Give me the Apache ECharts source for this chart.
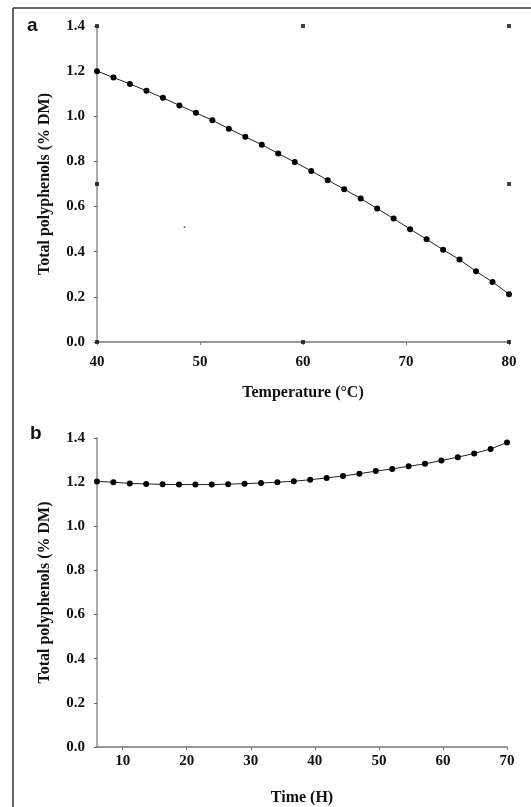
<!DOCTYPE html>
<html>
<head>
<meta charset="utf-8">
<script src="https://cdn.jsdelivr.net/npm/echarts@6/dist/echarts.min.js"></script>
<style>
  html, body { margin: 0; padding: 0; background: #fff; }
  #chart { width: 531px; height: 807px; }
</style>
</head>
<body>
<div id="chart"></div>
<script>
// panel a: temperature
const tempX = [40, 41.6, 43.2, 44.8, 46.4, 48, 49.6, 51.2, 52.8, 54.4, 56, 57.6, 59.2,
    60.8, 62.4, 64, 65.6, 67.2, 68.8, 70.4, 72, 73.6, 75.2, 76.8, 78.4, 80];
const tempY = [1.200, 1.172, 1.143, 1.113, 1.082, 1.048, 1.016, 0.982, 0.945, 0.909, 0.874, 0.835, 0.797,
    0.758, 0.717, 0.677, 0.636, 0.591, 0.547, 0.500, 0.455, 0.409, 0.365, 0.313, 0.266, 0.212];
// small square handles seen around panel a
const handlesA = [[40, 1.4], [60, 1.4], [80, 1.4], [40, 0.7], [80, 0.7], [40, 0], [60, 0], [80, 0]];
const strayA = [[48.5, 0.51]];

// panel b: time
const timeX = [6, 8.56, 11.12, 13.68, 16.24, 18.8, 21.36, 23.92, 26.48, 29.04, 31.6, 34.16, 36.72,
    39.28, 41.84, 44.4, 46.96, 49.52, 52.08, 54.64, 57.2, 59.76, 62.32, 64.88, 67.44, 70];
const timeY = [1.203, 1.200, 1.194, 1.192, 1.190, 1.189, 1.189, 1.189, 1.191, 1.193, 1.196, 1.200, 1.204,
    1.211, 1.219, 1.228, 1.238, 1.250, 1.260, 1.272, 1.283, 1.298, 1.313, 1.330, 1.350, 1.380];

const yTicks = [0, 0.2, 0.4, 0.6, 0.8, 1.0, 1.2, 1.4];
const tempTicks = [40, 50, 60, 70, 80];
const timeTicks = [10, 20, 30, 40, 50, 60, 70];

const serif = 'Liberation Serif';
const labelStyle = { color: '#111', fontFamily: serif, fontWeight: 'bold', fontSize: 15 };
const nameStyle = { color: '#111', fontFamily: serif, fontWeight: 'bold', fontSize: 16 };

function yAxis(gridIndex) {
    return {
        type: 'value', gridIndex: gridIndex, min: 0, max: 1.4, interval: 0.2,
        name: 'Total polyphenols (% DM)', nameLocation: 'middle', nameGap: 44,
        nameTextStyle: nameStyle,
        axisLine: { show: true, lineStyle: { color: '#a8a8a8', width: 2 } },
        axisTick: { show: true, length: 3, lineStyle: { color: '#666' } },
        axisLabel: Object.assign({ margin: 12, formatter: (v) => v.toFixed(1),
            customValues: yTicks }, labelStyle),
        splitLine: { show: false }
    };
}

const chart = echarts.init(document.getElementById('chart'));
const option = {
    animation: false,
    backgroundColor: '#fff',
    grid: [
        { left: 97, right: 22, top: 26, bottom: 465 },
        { left: 97, right: 24, top: 438, bottom: 60 }
    ],
    xAxis: [
        {
            type: 'value', gridIndex: 0, min: 40, max: 80, interval: 10,
            name: 'Temperature (°C)', nameLocation: 'middle', nameGap: 43,
            nameTextStyle: nameStyle,
            axisLine: { show: true, lineStyle: { color: '#777', width: 1.5 } },
            axisTick: { show: true, length: 3, customValues: tempTicks, lineStyle: { color: '#777' } },
            axisLabel: Object.assign({ margin: 13, customValues: tempTicks }, labelStyle),
            splitLine: { show: false }
        },
        {
            type: 'value', gridIndex: 1, min: 6, max: 70,
            name: 'Time (H)', nameLocation: 'middle', nameGap: 43,
            nameTextStyle: nameStyle,
            axisLine: { show: true, lineStyle: { color: '#777', width: 1.5 } },
            axisTick: { show: true, length: 3, customValues: timeTicks, lineStyle: { color: '#777' } },
            axisLabel: Object.assign({ margin: 7, customValues: timeTicks }, labelStyle),
            splitLine: { show: false }
        }
    ],
    yAxis: [yAxis(0), yAxis(1)],
    graphic: [
        { type: 'line', shape: { x1: 13, y1: 8, x2: 531, y2: 8 }, style: { stroke: '#333', lineWidth: 1.5 } },
        { type: 'line', shape: { x1: 13, y1: 8, x2: 13, y2: 807 }, style: { stroke: '#333', lineWidth: 1.5 } },
        { type: 'text', left: 27, top: 16, style: { text: 'a', font: 'bold 19px "Liberation Sans"', fill: '#111' } },
        { type: 'text', left: 30, top: 424, style: { text: 'b', font: 'bold 19px "Liberation Sans"', fill: '#111' } }
    ],
    series: [
        {
            type: 'line', xAxisIndex: 0, yAxisIndex: 0,
            data: tempX.map((x, i) => [x, tempY[i]]),
            symbol: 'circle', symbolSize: 6,
            itemStyle: { color: '#000' },
            lineStyle: { color: '#222', width: 1 }
        },
        {
            type: 'scatter', xAxisIndex: 0, yAxisIndex: 0, data: handlesA,
            symbol: 'rect', symbolSize: 4, itemStyle: { color: '#111' }, z: 5
        },
        {
            type: 'scatter', xAxisIndex: 0, yAxisIndex: 0, data: strayA,
            symbol: 'circle', symbolSize: 2, itemStyle: { color: '#3344aa' }
        },
        {
            type: 'line', xAxisIndex: 1, yAxisIndex: 1,
            data: timeX.map((x, i) => [x, timeY[i]]),
            symbol: 'circle', symbolSize: 6,
            itemStyle: { color: '#000' },
            lineStyle: { color: '#222', width: 1 }
        }
    ]
};
chart.setOption(option);
</script>
</body>
</html>
